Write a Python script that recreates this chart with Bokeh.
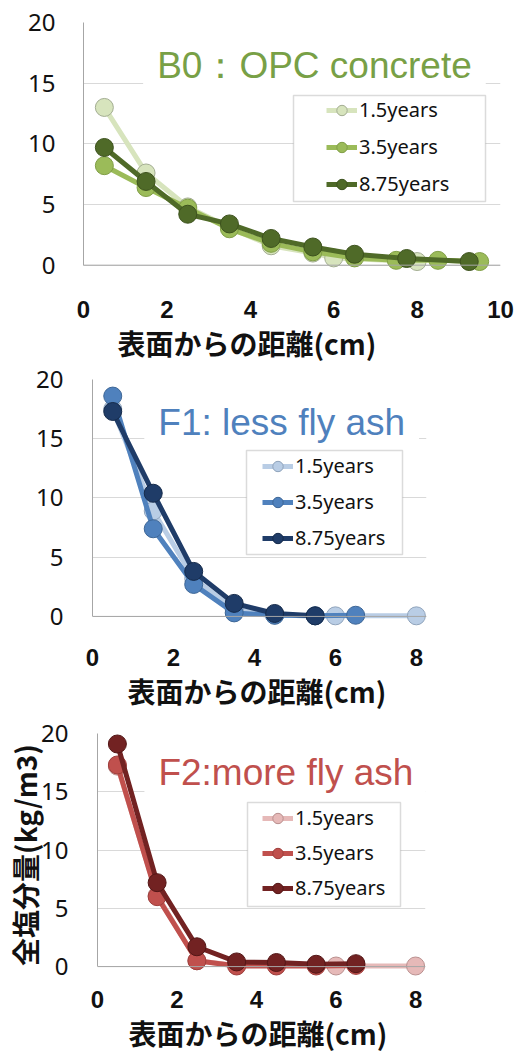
from bokeh.plotting import figure
from bokeh.models import (Legend, LegendItem, Label, FixedTicker, Range1d, Span,
                          BoxAnnotation, Title)
from bokeh.embed import file_html
from bokeh.resources import INLINE

# ---------------- data ----------------
ages = ["1.5years", "3.5years", "8.75years"]
y_ticks = [0, 5, 10, 15, 20]
b0_x_ticks = [0, 2, 4, 6, 8, 10]
f_x_ticks = [0, 2, 4, 6, 8]
x_title = "表面からの距離(cm)"
y_title = "全塩分量(kg/m3)"

b0_title = "B0：OPC concrete"
b0_x_15 = [0.5, 1.5, 2.5, 3.5, 4.5, 5.5, 6.0, 8.0]
b0_y_15 = [13.0, 7.6, 4.8, 3.1, 1.6, 1.0, 0.6, 0.3]
b0_x_35 = [0.5, 1.5, 2.5, 3.5, 4.5, 5.5, 6.5, 7.5, 8.5, 9.5]
b0_y_35 = [8.2, 6.4, 4.7, 3.0, 1.8, 1.1, 0.6, 0.4, 0.4, 0.3]
b0_x_875 = [0.5, 1.5, 2.5, 3.5, 4.5, 5.5, 6.5, 7.75, 9.25]
b0_y_875 = [9.7, 6.9, 4.2, 3.4, 2.2, 1.5, 0.9, 0.55, 0.3]

f1_title = "F1: less fly ash"
f1_x_15 = [0.5, 1.5, 2.5, 3.5, 4.5, 5.5, 6.0, 8.0]
f1_y_15 = [17.5, 8.9, 3.2, 0.6, 0.1, 0.05, 0.05, 0.05]
f1_x_35 = [0.5, 1.5, 2.5, 3.5, 4.5, 5.5, 6.5]
f1_y_35 = [18.6, 7.4, 2.7, 0.3, 0.1, 0.05, 0.1]
f1_x_875 = [0.5, 1.5, 2.5, 3.5, 4.5, 5.5]
f1_y_875 = [17.3, 10.4, 3.8, 1.1, 0.25, 0.05]

f2_title = "F2:more fly ash"
f2_x_15 = [0.5, 1.5, 2.5, 3.5, 4.5, 5.5, 6.0, 8.0]
f2_y_15 = [17.2, 6.1, 0.5, 0.1, 0.1, 0.1, 0.05, 0.05]
f2_x_35 = [0.5, 1.5, 2.5, 3.5, 4.5, 5.5, 6.5]
f2_y_35 = [17.3, 6.0, 0.5, 0.05, 0.05, 0.05, 0.1]
f2_x_875 = [0.5, 1.5, 2.5, 3.5, 4.5, 5.5, 6.5]
f2_y_875 = [19.1, 7.2, 1.7, 0.4, 0.35, 0.2, 0.25]

# ---------------- styles / layout ----------------
panels = [
    dict(title=b0_title, title_color="#78a046",
         xs=[b0_x_15, b0_x_35, b0_x_875], ys=[b0_y_15, b0_y_35, b0_y_875],
         colors=["#d7e4bd", "#9bbb59", "#4f6a28"],
         outlines=["#a3ad92", "#809e46", "#3d521e"],
         xmax=10, xticks=b0_x_ticks, height=363, mt=22, mb=88, ml=83, mr=17,
         ystd=28, xstd=25, title_xy=(1.43, 16.46),
         leg_loc=(243, 78), leg_sp=10, box=(210, 402, 74, 180),
         xt_off=34, yt=False),
    dict(title=f1_title, title_color="#4f81bd",
         xs=[f1_x_15, f1_x_35, f1_x_875], ys=[f1_y_15, f1_y_35, f1_y_875],
         colors=["#b9cde5", "#4f81bd", "#1f3c68"],
         outlines=["#8fa3bb", "#3d6696", "#152a4a"],
         xmax=8.25, xticks=f_x_ticks, height=348, mt=16, mb=85, ml=92, mr=91,
         ystd=29, xstd=22, title_xy=(1.28, 16.37),
         leg_loc=(170, 75), leg_sp=9, box=(154, 310, 72, 176),
         xt_off=35, yt=False),
    dict(title=f2_title, title_color="#c0504d",
         xs=[f2_x_15, f2_x_35, f2_x_875], ys=[f2_y_15, f2_y_35, f2_y_875],
         colors=["#e6b9b8", "#c0504d", "#722222"],
         outlines=["#b98f8e", "#9e3e3b", "#531616"],
         xmax=8.25, xticks=f_x_ticks, height=342, mt=22, mb=77, ml=97, mr=92,
         ystd=29, xstd=14, title_xy=(1.18, 16.66),
         leg_loc=(165, 75), leg_sp=8, box=(150, 303, 70, 174),
         xt_off=31, yt=True),
]

figs = []
for cfg in panels:
    p = figure(width=517, height=cfg["height"],
               x_range=Range1d(0, cfg["xmax"]), y_range=Range1d(-0.85, 20),
               output_backend="svg", toolbar_location=None,
               min_border_top=cfg["mt"], min_border_bottom=cfg["mb"],
               min_border_left=cfg["ml"], min_border_right=cfg["mr"],
               background_fill_color="white", border_fill_color="white")
    p.outline_line_color = None
    p.xgrid.visible = False
    p.ygrid.ticker = FixedTicker(ticks=y_ticks)
    p.ygrid.grid_line_color = "#d9d9d9"
    p.ygrid.grid_line_width = 1

    p.yaxis.ticker = FixedTicker(ticks=y_ticks)
    p.yaxis.bounds = (0, 20)
    p.yaxis.axis_line_color = "#a6a6a6"
    p.yaxis.major_tick_line_color = None
    p.yaxis.minor_tick_line_color = None
    p.yaxis.major_tick_out = 0
    p.yaxis.major_tick_in = 0
    p.yaxis.major_label_standoff = cfg["ystd"]
    p.yaxis.major_label_text_font = "Noto Sans"
    p.yaxis.major_label_text_font_size = "24px"
    p.yaxis.major_label_text_color = "#111111"
    if cfg["yt"]:
        p.yaxis.axis_label = y_title
        p.yaxis.axis_label_text_font = "Noto Sans CJK JP"
        p.yaxis.axis_label_text_font_style = "bold"
        p.yaxis.axis_label_text_font_size = "28px"
        p.yaxis.axis_label_text_color = "#111111"
        p.yaxis.axis_label_standoff = -7

    p.xaxis.ticker = FixedTicker(ticks=cfg["xticks"])
    p.xaxis.axis_line_color = None
    p.xaxis.major_tick_line_color = None
    p.xaxis.minor_tick_line_color = None
    p.xaxis.major_tick_out = 0
    p.xaxis.major_tick_in = 0
    p.xaxis.major_label_standoff = cfg["xstd"]
    p.xaxis.major_label_text_font = "Liberation Sans"
    p.xaxis.major_label_text_font_style = "bold"
    p.xaxis.major_label_text_font_size = "24px"
    p.xaxis.major_label_text_color = "#111111"

    p.add_layout(Title(text=x_title, align="left", offset=cfg["xt_off"],
                       standoff=0, text_font="Noto Sans CJK JP",
                       text_font_style="bold", text_font_size="28px",
                       text_color="#111111"), "below")

    p.add_layout(Span(location=0, dimension="width", line_color="#a6a6a6",
                      line_width=1))

    items = []
    for k in range(3):
        lr = p.line(cfg["xs"][k], cfg["ys"][k], line_color=cfg["colors"][k],
                    line_width=5)
        sr = p.scatter(cfg["xs"][k], cfg["ys"][k], marker="circle", size=18,
                       fill_color=cfg["colors"][k], line_color=cfg["outlines"][k],
                       line_width=1)
        items.append(LegendItem(label=ages[k], renderers=[lr, sr]))

    tx, ty = cfg["title_xy"]
    p.add_layout(Label(x=tx, y=ty, text=cfg["title"], text_font="Liberation Sans",
                       text_font_size="37px", text_color=cfg["title_color"],
                       text_baseline="middle", text_align="left",
                       background_fill_color="white", padding=14))

    bl, br, bb, bt = cfg["box"]
    p.add_layout(BoxAnnotation(left=bl, right=br, bottom=bb, top=bt,
                               left_units="screen", right_units="screen",
                               bottom_units="screen", top_units="screen",
                               fill_color="white", fill_alpha=1.0,
                               line_color="#888888", line_width=1.5))
    leg = Legend(items=items, location=cfg["leg_loc"], orientation="vertical",
                 padding=0, margin=0, spacing=cfg["leg_sp"],
                 glyph_width=31, glyph_height=26, label_height=26,
                 label_standoff=2, label_text_font="Noto Sans",
                 label_text_font_size="20px", label_text_color="#111111",
                 border_line_color=None, background_fill_alpha=0)
    p.add_layout(leg)
    figs.append(p)

open("out.html", "w").write(file_html(figs, INLINE))
